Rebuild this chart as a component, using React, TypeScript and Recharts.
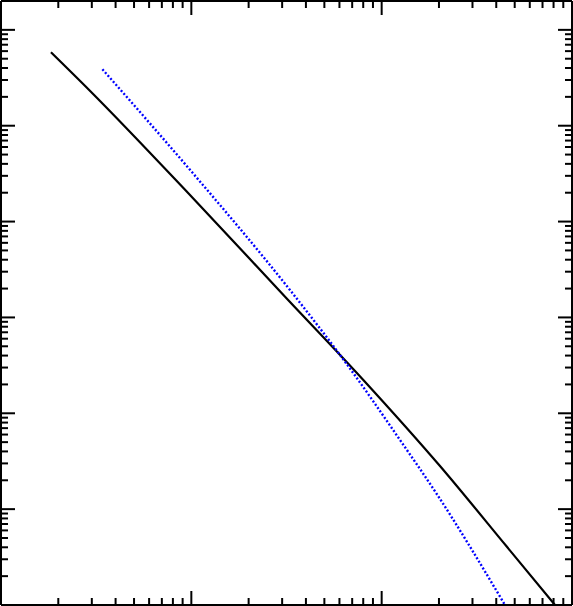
import React from 'react';
import { LineChart, Line, XAxis, YAxis } from 'recharts';

// solid black curve
const BLACK_X = [1.83, 2.94, 9.84, 31.7, 80.1, 202.5, 454, 814];
const BLACK_Y = [5.83, 2.30, 0.189, 0.0158, 0.00223, 0.000282, 0.0000407, 0.00001];

// dotted blue curve
const BLUE_X = [3.41, 9.96, 33.0, 64.2, 124.8, 196.1, 444.6];
const BLUE_Y = [3.88, 0.337, 0.0193, 0.00345, 0.000527, 0.000141, 0.00001];

// log tick marks: decades x mantissas
const MANTISSAS = [1, 2, 3, 4, 5, 6, 7, 8, 9];
const X_DECADES = [1, 10, 100];
const Y_DECADES = [1e-5, 1e-4, 1e-3, 1e-2, 1e-1, 1];

const X_TICKS = [...X_DECADES.flatMap((d) => MANTISSAS.map((m) => m * d)), 1000];
const Y_TICKS = [...Y_DECADES.flatMap((d) => MANTISSAS.map((m) => m * d)), 10];

const blackData = BLACK_X.map((x, i) => ({ x, y: BLACK_Y[i] }));
const blueData = BLUE_X.map((x, i) => ({ x, y: BLUE_Y[i] }));

const W = 573;
const H = 606;

function isMajor(v: number) {
  const l = Math.log10(v);
  return Math.abs(l - Math.round(l)) < 1e-6;
}

// inward tick marks, long on decades
function TickMark(props: any) {
  const { x, y, payload, side } = props;
  const len = isMajor(payload.value) ? 14 : 7;
  let x2 = x;
  let y2 = y;
  if (side === 'bottom') y2 = y - len;
  if (side === 'top') y2 = y + len;
  if (side === 'left') x2 = x + len;
  if (side === 'right') x2 = x - len;
  return <line x1={x} y1={y} x2={x2} y2={y2} stroke="#000" strokeWidth={2} />;
}

const axisLine = { stroke: '#000', strokeWidth: 2 };

export default function App() {
  return (
    <div style={{ position: 'absolute', left: 0, top: 0, background: '#fff' }}>
      <LineChart width={W} height={H} margin={{ top: 0, right: 0, bottom: 0, left: 0 }}>
        <XAxis
          xAxisId="bottom"
          orientation="bottom"
          type="number"
          dataKey="x"
          scale="log"
          domain={[1, 1000]}
          allowDataOverflow
          ticks={X_TICKS}
          interval={0}
          height={1}
          tickSize={0}
          tickMargin={0}
          tickLine={false}
          axisLine={axisLine}
          tick={(p: any) => <TickMark {...p} side="bottom" />}
        />
        <XAxis
          xAxisId="top"
          orientation="top"
          type="number"
          dataKey="x"
          scale="log"
          domain={[1, 1000]}
          allowDataOverflow
          ticks={X_TICKS}
          interval={0}
          height={1}
          tickSize={0}
          tickMargin={0}
          tickLine={false}
          axisLine={axisLine}
          tick={(p: any) => <TickMark {...p} side="top" />}
        />
        <YAxis
          yAxisId="left"
          orientation="left"
          type="number"
          dataKey="y"
          scale="log"
          domain={[1e-5, 20]}
          allowDataOverflow
          ticks={Y_TICKS}
          interval={0}
          width={1}
          tickSize={0}
          tickMargin={0}
          tickLine={false}
          axisLine={axisLine}
          tick={(p: any) => <TickMark {...p} side="left" />}
        />
        <YAxis
          yAxisId="right"
          orientation="right"
          type="number"
          dataKey="y"
          scale="log"
          domain={[1e-5, 20]}
          allowDataOverflow
          ticks={Y_TICKS}
          interval={0}
          width={1}
          tickSize={0}
          tickMargin={0}
          tickLine={false}
          axisLine={axisLine}
          tick={(p: any) => <TickMark {...p} side="right" />}
        />
        <Line
          xAxisId="bottom"
          yAxisId="left"
          data={blackData}
          dataKey="y"
          type="monotone"
          stroke="#000"
          strokeWidth={2.2}
          dot={false}
          isAnimationActive={false}
        />
        <Line
          xAxisId="bottom"
          yAxisId="left"
          data={blueData}
          dataKey="y"
          type="monotone"
          stroke="#0000ff"
          strokeWidth={2.4}
          strokeDasharray="2 2"
          dot={false}
          isAnimationActive={false}
        />
      </LineChart>
    </div>
  );
}
